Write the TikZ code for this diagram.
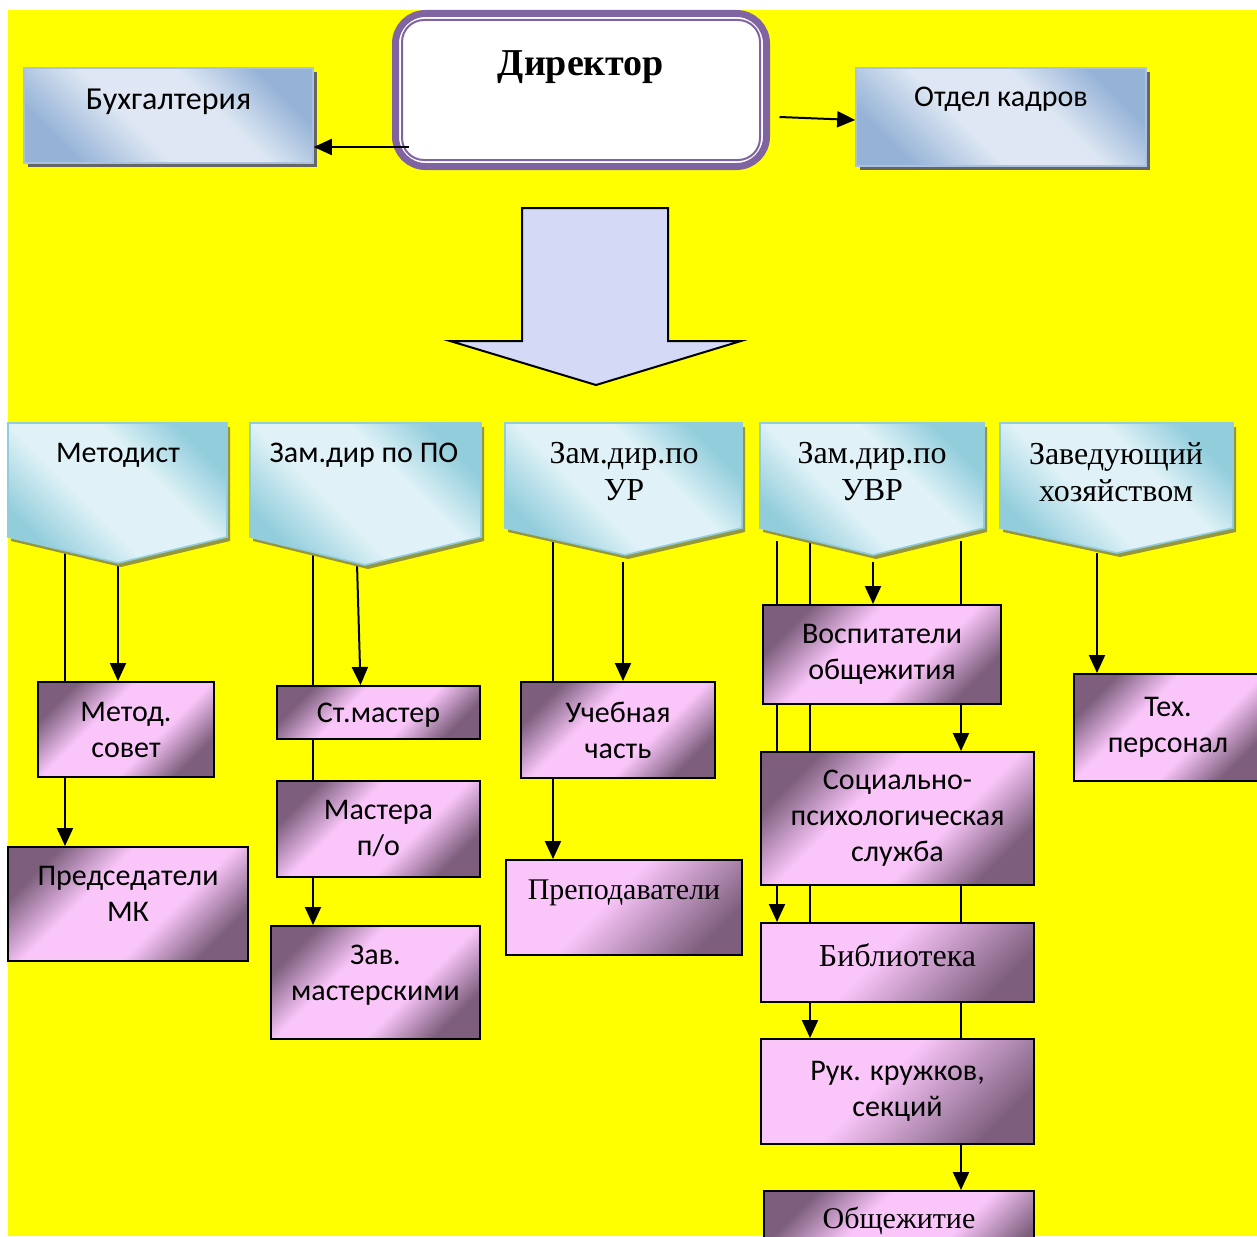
\documentclass[tikz,border=0pt]{standalone}
\usepackage{fontspec}
\setmainfont{Liberation Serif}
\newfontfamily\calfont{Carlito}
\usetikzlibrary{arrows.meta, calc, shadows, backgrounds}

\definecolor{ylw}{RGB}{255,255,0}
\definecolor{bluedark}{RGB}{149,179,215}
\definecolor{bluelight}{RGB}{222,231,243}
\definecolor{cyandark}{RGB}{146,205,220}
\definecolor{cyanlight}{RGB}{224,242,247}
\definecolor{pinklight}{RGB}{250,198,250}
\definecolor{mauve}{RGB}{125,95,125}
\definecolor{dirpurple}{RGB}{128,100,162}
\definecolor{arrowfill}{RGB}{212,218,246}
\definecolor{olivesh}{RGB}{150,150,60}

% shadings: dark corners, light band across the middle
\pgfdeclareverticalshading{pinkband}{100bp}{color(0bp)=(mauve); color(25bp)=(mauve); color(40bp)=(pinklight); color(60bp)=(pinklight); color(75bp)=(mauve); color(100bp)=(mauve)}
\pgfdeclareverticalshading{pinkfade}{100bp}{color(0bp)=(mauve); color(25bp)=(mauve); color(55bp)=(pinklight); color(75bp)=(pinklight); color(100bp)=(pinklight)}
\pgfdeclareverticalshading{blueband}{100bp}{color(0bp)=(bluedark); color(25bp)=(bluedark); color(42bp)=(bluelight); color(60bp)=(bluelight); color(75bp)=(bluedark); color(100bp)=(bluedark)}
\pgfdeclareverticalshading{cyanband}{100bp}{color(0bp)=(cyandark); color(25bp)=(cyandark); color(42bp)=(cyanlight); color(60bp)=(cyanlight); color(75bp)=(cyandark); color(100bp)=(cyandark)}

\begin{document}
\begin{tikzpicture}[x=0.5pt, y=-0.5pt,
	sans/.style={font=\calfont\fontsize{15}{18}\selectfont},
	serif/.style={font=\fontsize{16}{18.5}\selectfont},
	bluebox/.style={draw=bluedark!80, line width=0.8pt, inner sep=0pt,
		shade, shading=blueband, shading angle=-45,
		drop shadow={shadow xshift=2pt, shadow yshift=-2pt, fill=black!60, opacity=1}},
	pinkbox/.style={draw=black, line width=1pt, align=center, inner sep=0pt,
		shade, shading=pinkband, shading angle=45},
	pinkboxb/.style={draw=black, line width=1pt, align=center, inner sep=0pt,
		shade, shading=pinkfade, shading angle=45},
	pent/.style={draw=cyandark, line width=0.8pt, shade, shading=cyanband, shading angle=-45},
	arr/.style={line width=1pt, -{Triangle[length=9pt, width=8pt]}}
]
	\useasboundingbox (0,0) rectangle (1257,1236);
	\clip (0,0) rectangle (1257,1236);
	\begin{scope}[on background layer]
		\fill[white] (0,0) rectangle (1257,1236);
		\fill[ylw] (8,10) rectangle (1257,1236);
	\end{scope}

	% top row
	\node[draw=dirpurple, line width=3.5pt, fill=white, rounded corners=15pt,
		minimum width=185.5pt, minimum height=76.5pt, inner sep=0pt,
		label={[font=\fontsize{19}{22}\selectfont\bfseries, anchor=center, yshift=-28.5pt]north:Директор}] (dir) at (581,90) {};
	\draw[dirpurple, line width=1pt, rounded corners=11pt] ([shift={(10,10)}]dir.north west) rectangle ([shift={(-10,-10)}]dir.south east);
	\node[bluebox, minimum width=144.5pt, minimum height=47.5pt,
		label={[font=\calfont\fontsize{16}{18}\selectfont, anchor=center, yshift=-17.5pt]north:Бухгалтерия}] (buh) at (168.5,115.5) {};
	\node[bluebox, minimum width=145pt, minimum height=49pt,
		label={[sans, anchor=center, yshift=-16pt]north:Отдел кадров}] (otdel) at (1001,117) {};
	\coordinate (d1) at ([xshift=8.25pt,yshift=-28.5pt]dir.west);
	\coordinate (d2) at ([xshift=4.75pt,yshift=-13.5pt]dir.east);
	\draw[arr] (d1) -- (d1 -| buh.east);
	\draw[arr] (d2) -- ([yshift=-1.5pt]otdel.west);

	% big arrow
	\draw[line width=1pt, fill=arrowfill] (522,208) -- (668,208) -- (668,341) -- (741,341) -- (596,385) -- (450,341) -- (522,341) -- cycle;

	% heads
	\foreach \xa/\xb/\xt/\ys/\yt in {8/227/118/537/563, 250/481/365/537/565, 505/742/625/528/555, 760/984/873/528/555, 1000/1233/1117/528/553}{
		\fill[olivesh, shift={(3,4)}] (\xa,423) -- (\xb,423) -- (\xb,\ys) -- (\xt,\yt) -- (\xa,\ys) -- cycle;
		\draw[pent] (\xa,423) -- (\xb,423) -- (\xb,\ys) -- (\xt,\yt) -- (\xa,\ys) -- cycle;
	}
	\node[sans] (metodist) at (118,455) {Методист};
	\node[sans] (zampo) at (364,455) {Зам.дир по ПО};
	\node[serif, align=center] (zamur) at (624,472) {Зам.дир.по\\УР};
	\node[serif, align=center] (zamuvr) at (872,472) {Зам.дир.по\\УВР};
	\node[serif, align=center] (zavhoz) at (1116,472) {Заведующий\\хозяйством};

	\coordinate (m1) at (65,550);
	\coordinate (m2) at (118,563);
	\coordinate (p1) at (313,552);
	\coordinate (p2) at (357,564);
	\coordinate (r1) at (553,539);
	\coordinate (r2) at (623,562);
	\coordinate (v1) at (777,541);
	\coordinate (v2) at (810,541);
	\coordinate (v3) at (873,562);
	\coordinate (v4) at (961,541);
	\coordinate (z1) at (1097,553);

	% lower boxes
	\node[pinkbox, sans, minimum width=88pt, minimum height=47.5pt] (metsov) at (126,729.5) {Метод.\\совет};
	\node[pinkbox, minimum width=120pt, minimum height=57pt,
		label={[sans, align=center, anchor=center, yshift=5pt]center:Председатели\\МК}] (predmk) at (128,904) {};
	\node[pinkbox, minimum width=101.5pt, minimum height=26.5pt,
		label={[sans, anchor=center, yshift=-1.5pt]center:Ст.мастер}] (stmaster) at (378.5,712.5) {};
	\node[pinkbox, sans, minimum width=101.5pt, minimum height=48pt] (mastera) at (378.5,829) {Мастера\\п/о};
	\node[pinkbox, minimum width=104.5pt, minimum height=56.5pt,
		label={[sans, align=center, anchor=center, yshift=3.5pt]center:Зав.\\мастерскими}] (zavmast) at (375.5,982.5) {};
	\node[pinkbox, sans, minimum width=97pt, minimum height=48pt] (uchch) at (618,730) {Учебная\\часть};
	\node[pinkboxb, minimum width=118pt, minimum height=47.5pt,
		label={[font=\fontsize{15}{18}\selectfont, anchor=center, yshift=7.25pt]center:Преподаватели}] (prep) at (624,907.5) {};
	\node[pinkbox, sans, minimum width=119pt, minimum height=49.5pt] (vosp) at (882,654.5) {Воспитатели\\общежития};
	\node[pinkbox, sans, minimum width=136.5pt, minimum height=66.5pt] (socps) at (897.5,818.5) {Социально-\\психологическая\\служба};
	\node[pinkboxb, minimum width=136.5pt, minimum height=39.5pt,
		label={[serif, anchor=center, yshift=3.75pt]center:Библиотека}] (bibl) at (897.5,962.5) {};
	\node[pinkboxb, sans, minimum width=136.5pt, minimum height=52.5pt] (ruk) at (897.5,1091.5) {Рук. кружков,\\секций};
	\node[pinkbox, minimum width=135pt, minimum height=45pt,
		label={[font=\fontsize{15}{18}\selectfont, anchor=center, yshift=7.5pt]center:Общежитие}] (obsch) at (899,1236) {};
	\node[pinkbox, sans, minimum width=94pt, minimum height=53.5pt] (techp) at (1168,727.5) {Тех.\\персонал};

	% links
	\begin{scope}[on background layer]
		\draw[arr] (m1) -- (m1 |- predmk.north);
		\draw[arr] (m2) -- (m2 |- metsov.north);
		\draw[arr] (p1) -- (p1 |- zavmast.north);
		\draw[arr] (p2) -- ([xshift=-9pt]stmaster.north);
		\draw[arr] (r1) -- (r1 |- prep.north);
		\draw[arr] (r2) -- (r2 |- uchch.north);
		\draw[arr] (v1) -- (v1 |- bibl.north);
		\draw[arr] (v2) -- (v2 |- ruk.north);
		\draw[arr] (v3) -- (v3 |- vosp.north);
		\draw[arr] (v4) -- (v4 |- socps.north);
		\draw[arr] (v4 |- socps.south) -- (v4 |- obsch.north);
		\draw[arr] (z1) -- (z1 |- techp.north);
	\end{scope}
\end{tikzpicture}
\end{document}
